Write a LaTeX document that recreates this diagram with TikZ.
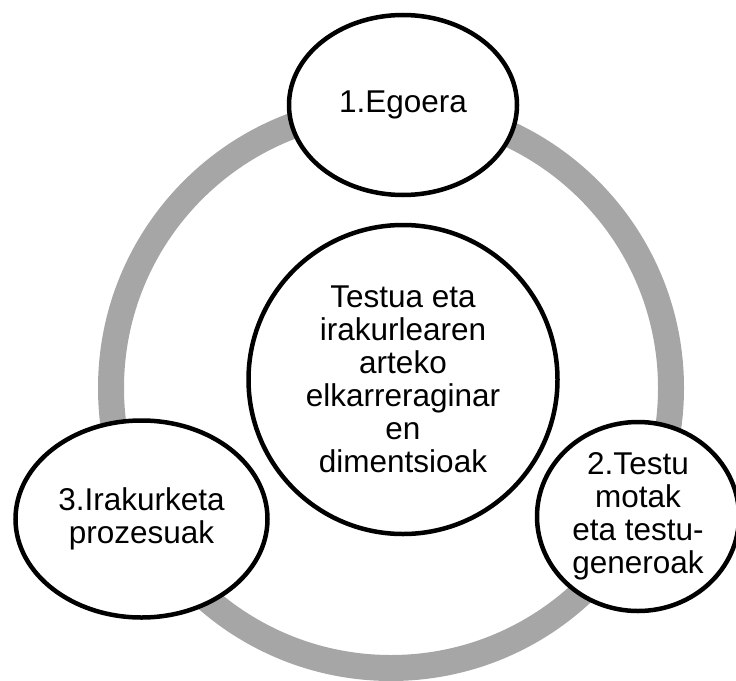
\documentclass[tikz,border=0pt]{standalone}
\usepackage{fontspec}
\setmainfont{Liberation Sans}
\usetikzlibrary{shapes.geometric}
\definecolor{ringgray}{HTML}{A6A6A6}
\tikzset{
  bubble/.style={draw=black, line width=4.5pt, fill=white, ellipse, inner sep=0pt,
    align=center, font=\fontsize{31.5}{33}\selectfont},
}
\begin{document}
\begin{tikzpicture}[x=1pt,y=-1pt]
\useasboundingbox (0,0) rectangle (736,680);
\clip (0,0) rectangle (736,680);
\coordinate (ringc) at (391,388);
\draw[ringgray, line width=26pt] (ringc) circle[radius=280];
\node[bubble, minimum width=228pt, minimum height=180pt] (egoera) at (403,105) {1.Egoera};
\node[bubble, minimum width=252pt, minimum height=197pt] (prozesu) at (141.5,519) {3.Irakurketa\\prozesuak};
\node[bubble, minimum width=202pt, minimum height=189pt] (testu) at (638,516.5) {2.Testu\\motak\\eta testu-\\generoak};
\node[bubble, minimum width=309pt, minimum height=309pt] (center) at (403,379.5) {Testua eta\\irakurlearen\\arteko\\elkarreraginar\\en\\dimentsioak};
\end{tikzpicture}
\end{document}
